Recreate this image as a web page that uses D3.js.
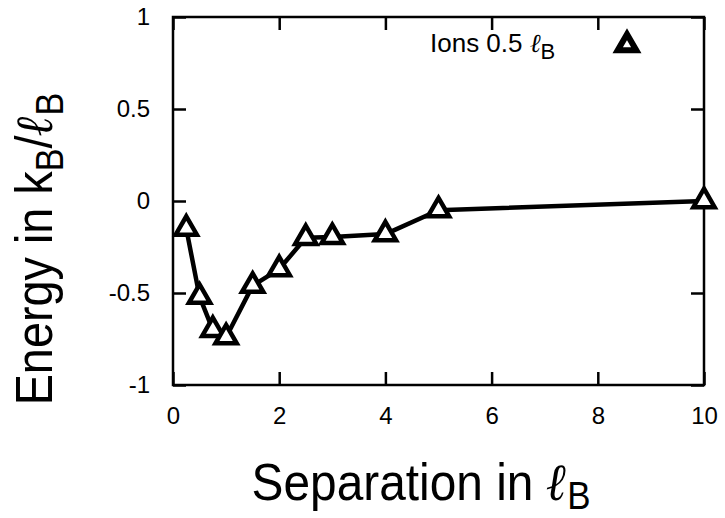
<!DOCTYPE html>
<html>
<head>
<meta charset="utf-8">
<script src="https://cdn.jsdelivr.net/npm/d3@7"></script>
<style>
  body { margin: 0; background: white; }
  text { font-family: "Liberation Sans", Arial, Helvetica, sans-serif; fill: black; }
</style>
</head>
<body>
<div id="chart"></div>
<script>
// separation (in l_B) and energy (in k_B/l_B)
const separation = [0.25, 0.5, 0.75, 1.0, 1.5, 2, 2.5, 3, 4, 5, 10]
const energy = [-0.15, -0.52, -0.70, -0.74, -0.46, -0.37, -0.20, -0.195, -0.18, -0.05, 0.0]
const xTicks = [0, 2, 4, 6, 8, 10]
const yTicks = [-1, -0.5, 0, 0.5, 1]
const seriesName = "Ions 0.5 "

const data = separation.map((s, i) => ({x: s, y: energy[i]}))

const W = 725, H = 518
const margin = {top: 17, right: 21, bottom: 133, left: 173}
const width = W - margin.left - margin.right
const height = H - margin.top - margin.bottom

const svg = d3.select('#chart').append("svg")
        .attr("width", W)
        .attr("height", H)
    .append("g")
        .attr("transform", "translate(" + margin.left + "," + margin.top + ")")

const x = d3.scaleLinear().domain([0, 10]).range([0, width])
const y = d3.scaleLinear().domain([-1, 1]).range([height, 0])

const tickLen = 13

// plain hyphen for negatives, like gnuplot
const fmt = d => String(d)

// axes (inward ticks, mirrored)
svg.append("g")
    .attr("transform", `translate(0, ${height})`)
    .call(d3.axisBottom(x).tickValues(xTicks).tickSize(-tickLen).tickPadding(22).tickFormat(fmt))
svg.append("g")
    .call(d3.axisTop(x).tickValues(xTicks).tickSize(-tickLen).tickFormat(""))
svg.append("g")
    .call(d3.axisLeft(y).tickValues(yTicks).tickSize(-tickLen).tickPadding(23).tickFormat(fmt))
svg.append("g")
    .attr("transform", `translate(${width}, 0)`)
    .call(d3.axisRight(y).tickValues(yTicks).tickSize(-tickLen).tickFormat(""))

svg.selectAll(".domain").remove()
svg.selectAll(".tick line").attr("stroke", "black").attr("stroke-width", 2.5)
svg.selectAll(".tick text")
    .style("font-size", "24px")
    .style("font-family", "'Liberation Sans', Arial, sans-serif")

// frame
svg.append("rect")
    .attr("width", width)
    .attr("height", height)
    .attr("fill", "none")
    .attr("stroke", "black")
    .attr("stroke-width", 2.5)

// line
const line = d3.line()
    .x(d => x(d.x))
    .y(d => y(d.y))

svg.append("path")
    .datum(data)
    .attr("fill", "none")
    .attr("stroke", "black")
    .attr("stroke-width", 4.5)
    .attr("stroke-linejoin", "round")
    .attr("d", line)

// triangle markers
const tri = d3.symbol(d3.symbolTriangle, 195)
svg.selectAll(".point")
    .data(data)
    .join("path")
        .attr("class", "point")
        .attr("transform", d => `translate(${x(d.x)},${y(d.y)})`)
        .attr("d", tri)
        .attr("fill", "white")
        .attr("stroke", "black")
        .attr("stroke-width", 4.5)
        .attr("stroke-linejoin", "miter")

// legend
const leg = svg.append("text")
    .attr("x", 257)
    .attr("y", 35)
    .style("font-size", "26px")
leg.append("tspan").text(seriesName)
leg.append("tspan").style("font-style", "italic").style("font-family", "'DejaVu Serif', serif").text("\u2113")
leg.append("tspan").attr("dy", 7).style("font-size", "22px").text("B")

svg.append("path")
    .attr("transform", `translate(${454},${28})`)
    .attr("d", d3.symbol(d3.symbolTriangle, 150))
    .attr("fill", "white")
    .attr("stroke", "black")
    .attr("stroke-width", 6)

// x-axis title
const xt = svg.append("text")
    .attr("transform", `translate(${248}, 483) scale(0.92, 1)`)
    .attr("text-anchor", "middle")
    .style("font-size", "52px")
xt.append("tspan").text("Separation in ")
xt.append("tspan").style("font-style", "italic").style("font-weight", "bold")
    .style("font-family", "'DejaVu Serif', serif").text("\u2113")
xt.append("tspan").attr("dy", 9).style("font-size", "38px").text("B")

// y-axis title
const yt = svg.append("text")
    .attr("transform", `translate(${-121},${232}) rotate(-90) scale(0.9, 1)`)
    .attr("text-anchor", "middle")
    .style("font-size", "52px")
yt.append("tspan").text("Energy in k")
yt.append("tspan").attr("dy", 11).style("font-size", "38px").text("B")
yt.append("tspan").attr("dy", -11).text("/")
yt.append("tspan").style("font-style", "italic").style("font-weight", "bold")
    .style("font-family", "'DejaVu Serif', serif").text("\u2113")
yt.append("tspan").attr("dy", 11).style("font-size", "38px").text("B")
</script>
</body>
</html>
